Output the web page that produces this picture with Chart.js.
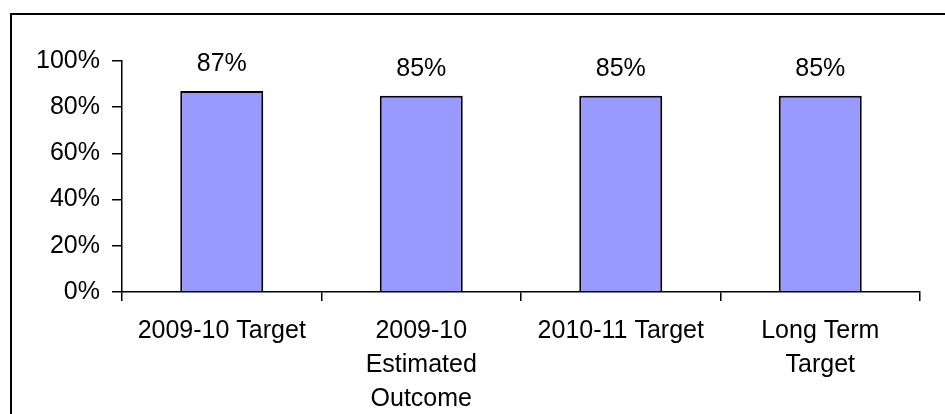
<!DOCTYPE html>
<html>
<head>
<meta charset="utf-8">
<script src="https://cdn.jsdelivr.net/npm/chart.js@4/dist/chart.umd.min.js"></script>
<style>
    html, body { margin: 0; padding: 0; background: #fff; }
    #wrap { position: relative; width: 945px; height: 414px; overflow: hidden; }
    #frame {
        position: absolute; left: 10px; top: 13px; width: 960px; height: 430px;
        border-top: 2px solid #000; border-left: 2px solid #000; pointer-events: none;
    }
    canvas { position: absolute; left: 0; top: 0; }
</style>
</head>
<body>
<div id="wrap">
    <canvas id="targetChart" width="945" height="414"></canvas>
    <div id="frame"></div>
</div>
<script>
// Targets vs outcome, percent
const categories = [
    ['2009-10 Target'],
    ['2009-10', 'Estimated', 'Outcome'],
    ['2010-11 Target'],
    ['Long Term', 'Target']
];
const values = [87, 85, 85, 85];
const yTicks = [0, 20, 40, 60, 80, 100];

const FONT = { family: '"Liberation Sans", Arial, sans-serif', size: 25 };

// value labels above each bar
const barLabels = {
    id: 'barLabels',
    afterDatasetsDraw(chart) {
        const ctx = chart.ctx;
        const meta = chart.getDatasetMeta(0);
        ctx.save();
        ctx.font = FONT.size + 'px ' + FONT.family;
        ctx.fillStyle = '#000';
        ctx.textAlign = 'center';
        ctx.textBaseline = 'middle';
        meta.data.forEach((bar, i) => {
            ctx.fillText(values[i] + '%', bar.x, bar.y - 27);
        });
        ctx.restore();
    }
};

new Chart(document.getElementById('targetChart'), {
    type: 'bar',
    data: {
        labels: categories,
        datasets: [{
            data: values,
            backgroundColor: '#9999ff',
            borderColor: '#000',
            borderWidth: 2,
            barPercentage: 0.416,
            categoryPercentage: 1
        }]
    },
    options: {
        responsive: false,
        devicePixelRatio: 1,
        animation: false,
        layout: { padding: { left: 0, top: 61, right: 25, bottom: 0 } },
        plugins: {
            legend: { display: false },
            tooltip: { enabled: false }
        },
        scales: {
            x: {
                grid: {
                    offset: true,
                    drawOnChartArea: false,
                    drawTicks: true,
                    tickLength: 9,
                    color: '#000',
                    lineWidth: 1.5
                },
                border: { display: true, color: '#000', width: 1.5 },
                ticks: {
                    color: '#000',
                    font: { family: FONT.family, size: FONT.size, lineHeight: 1.36 },
                    maxRotation: 0,
                    autoSkip: false,
                    padding: 13
                },
                afterFit(scale) { scale.height = 122; }
            },
            y: {
                min: 0,
                max: 100,
                afterBuildTicks(scale) {
                    scale.ticks = yTicks.map(v => ({ value: v }));
                },
                grid: {
                    drawOnChartArea: false,
                    drawTicks: true,
                    tickLength: 10,
                    color: '#000',
                    lineWidth: 1.5
                },
                border: { display: true, color: '#000', width: 1.5 },
                ticks: {
                    color: '#000',
                    font: { family: FONT.family, size: FONT.size },
                    padding: 12,
                    callback: v => v + '%'
                },
                afterFit(scale) { scale.width = 122; }
            }
        }
    },
    plugins: [barLabels]
});
</script>
</body>
</html>
